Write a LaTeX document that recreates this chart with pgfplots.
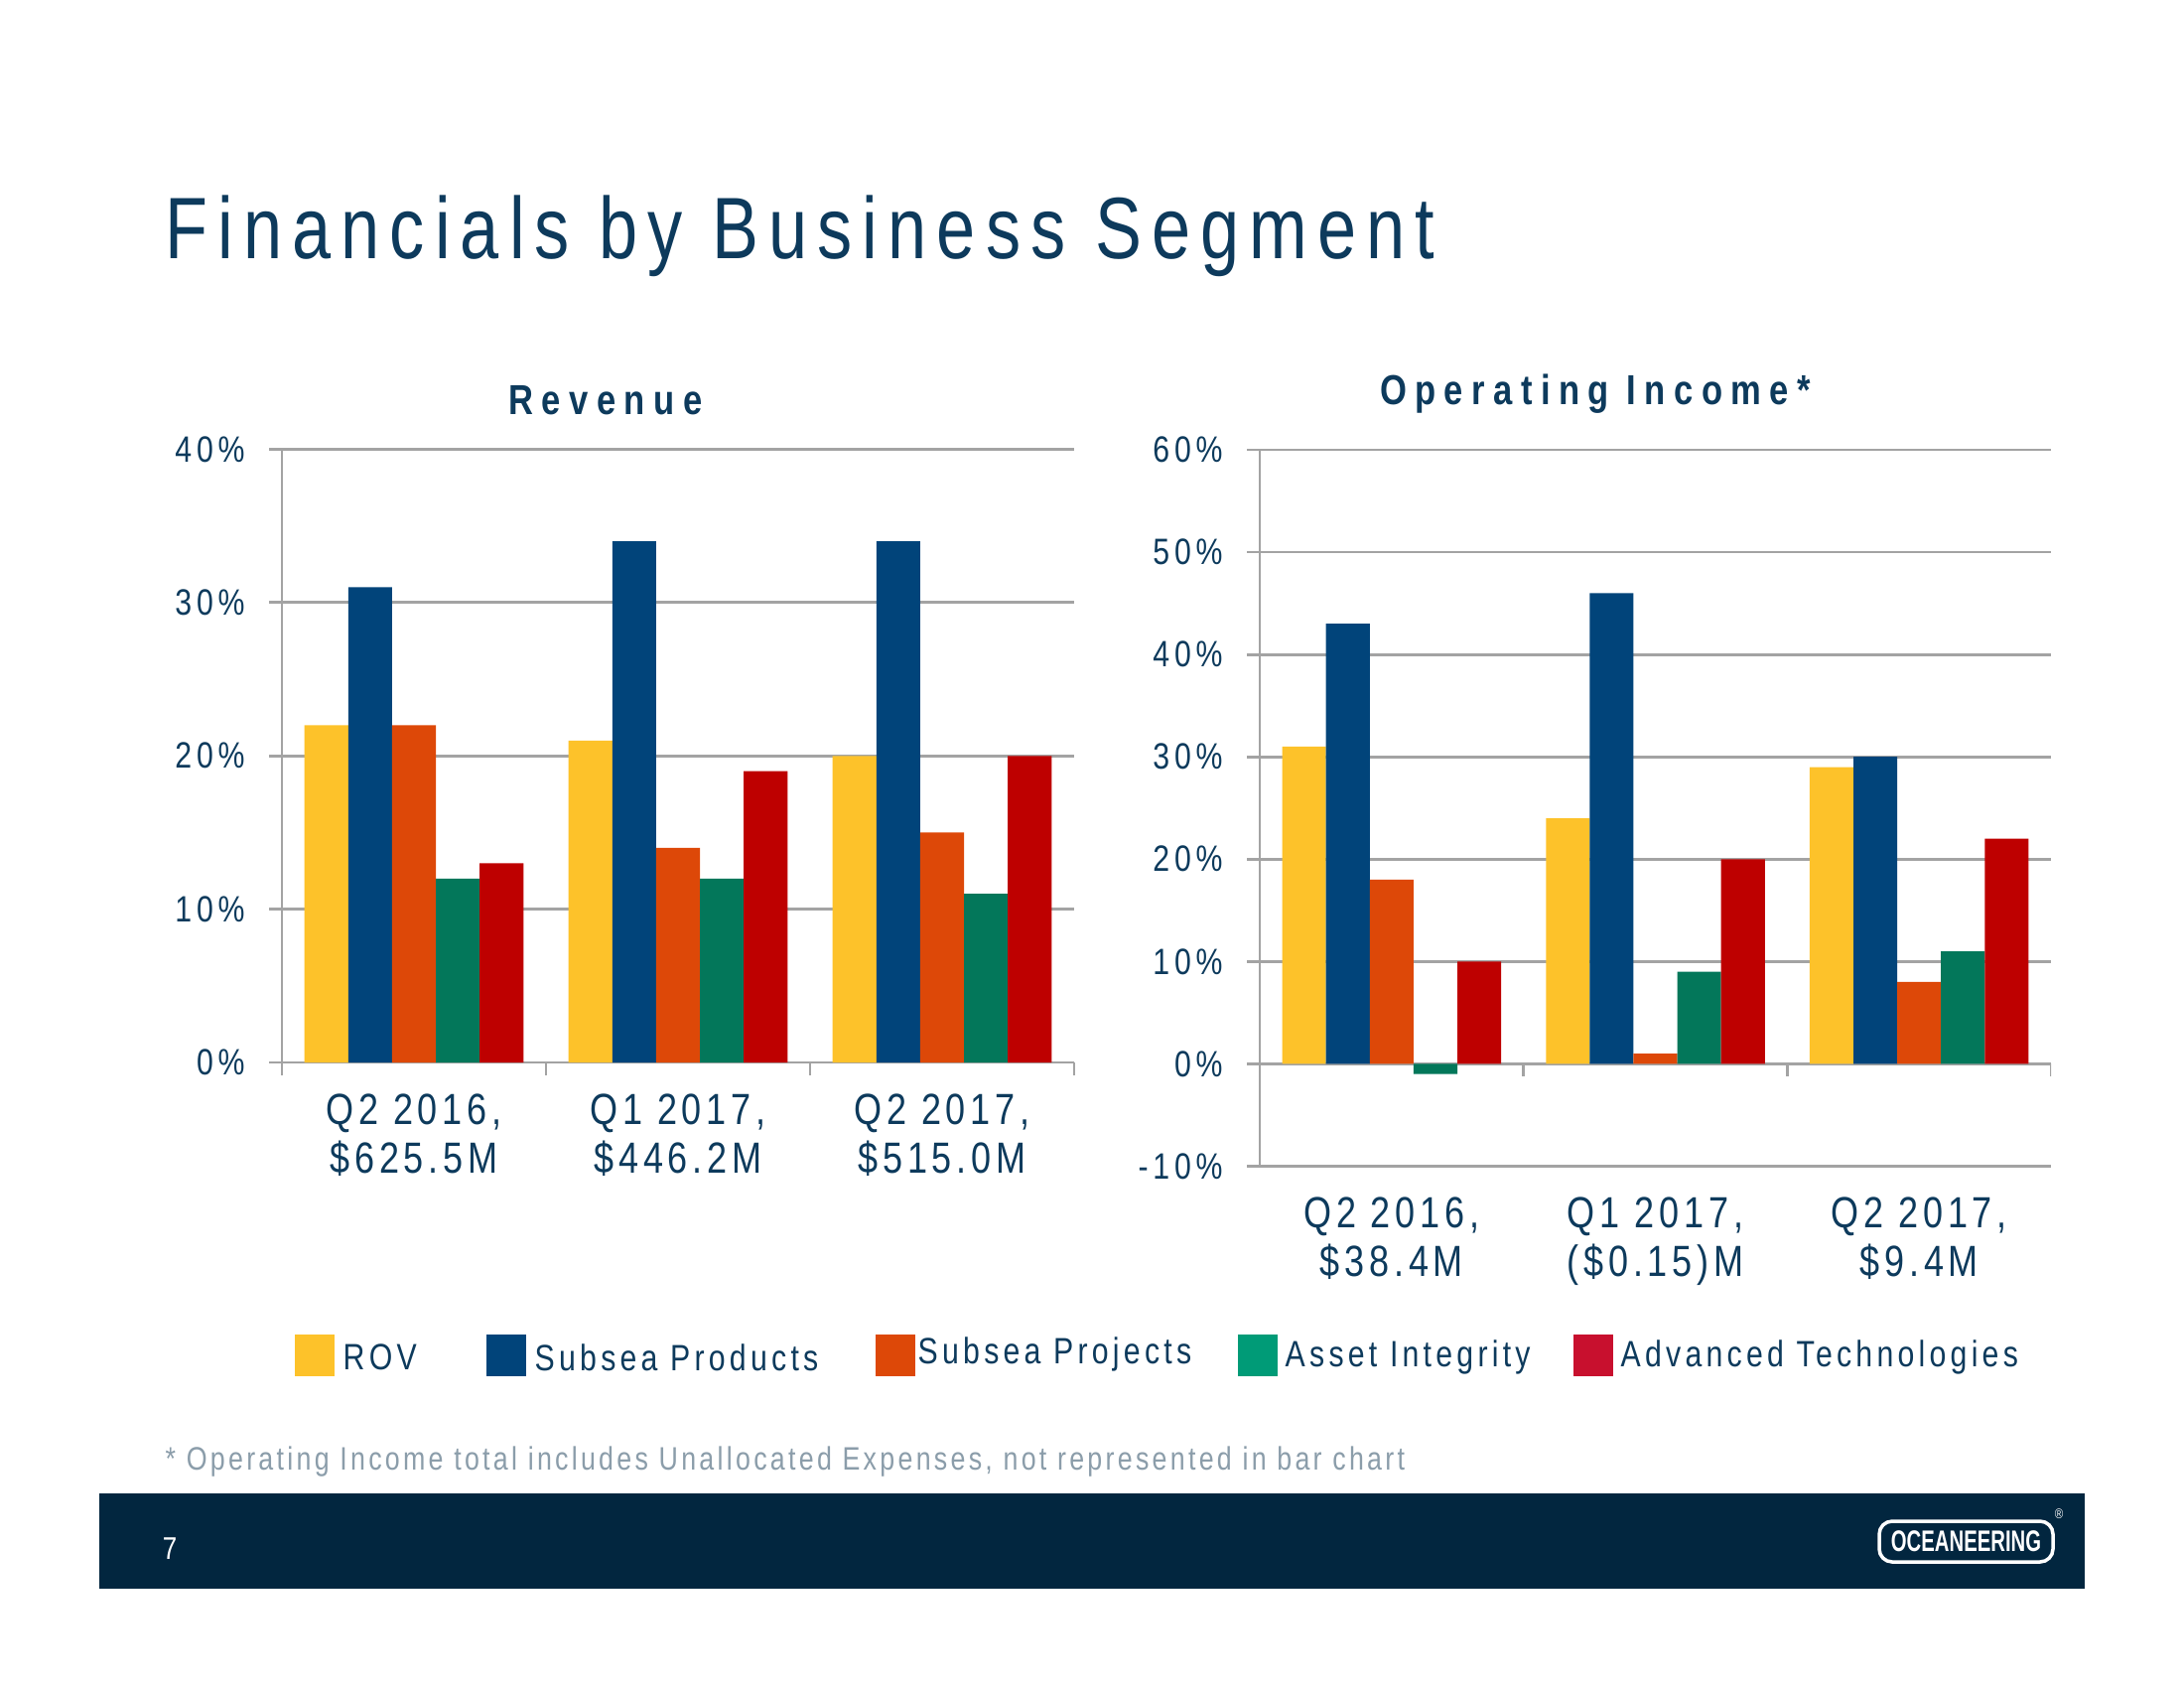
\documentclass[border=0pt]{standalone}
\usepackage{fontspec}
\setmainfont{Liberation Sans}[FakeStretch=0.82, LetterSpace=8]
\newfontfamily\titlefont{Liberation Sans}[FakeStretch=0.80, LetterSpace=11.5]
\newfontfamily\subfont{Liberation Sans}[FakeStretch=0.82, LetterSpace=20]
\newfontfamily\tickfont{Liberation Sans}[FakeStretch=0.82, LetterSpace=13]
\newfontfamily\catfont{Liberation Sans}[FakeStretch=0.82, LetterSpace=11]
\newfontfamily\legfont{Liberation Sans}[FakeStretch=0.82, LetterSpace=11.5]
\newfontfamily\footfont{Liberation Sans}[FakeStretch=0.82, LetterSpace=10]
\newfontfamily\logofont{Liberation Sans}[FakeStretch=0.68]
\usepackage{pgfplots}
\pgfplotsset{compat=1.18}
\definecolor{navy}{HTML}{0D3A5C}
\definecolor{gridgray}{HTML}{A3A3A3}
\definecolor{rov}{HTML}{FDC22A}
\definecolor{sprod}{HTML}{01447A}
\definecolor{sproj}{HTML}{DD4808}
\definecolor{asset}{HTML}{03775A}
\definecolor{adv}{HTML}{BE0000}
\definecolor{assetL}{HTML}{009B77}
\definecolor{advL}{HTML}{C8102E}
\definecolor{footgray}{HTML}{8B9DAA}
\definecolor{band}{HTML}{02263F}
\pgfplotsset{segstyle/.style={
  scale only axis, ybar, bar width=0.166,
  xmin=-0.5, xmax=2.5, enlarge x limits=false, enlarge y limits=false,
  axis x line=bottom, axis y line=left,
  axis line style={draw=gridgray, line width=0.8pt, -},
  ymajorgrids, grid style={draw=gridgray, line width=0.8pt},
  tick align=outside, major tick length=1.3mm,
  ytick style={draw=gridgray, line width=0.8pt},
  xtick={-0.5,0.5,1.5,2.5}, x tick label as interval,
  xticklabel style={align=center, font=\catfont\fontsize{12.5}{14}\selectfont, text=navy, yshift=-0.6mm},
  yticklabel style={font=\tickfont\fontsize{10.5}{12}\selectfont, text=navy, xshift=-1.2mm},
}}
\begin{document}
\begin{tikzpicture}
\path[use as bounding box] (0,0) rectangle (22,-17);
\node[anchor=base west, text=navy, font=\titlefont\fontsize{25}{30}\selectfont, inner sep=0] at (1.66,-2.60) {Financials by Business Segment};
\node[font=\subfont\bfseries\fontsize{12}{14}\selectfont, text=navy] at (6.10,-4.03) {Revenue};
\node[font=\subfont\bfseries\fontsize{12}{14}\selectfont, text=navy] at (16.07,-3.97) {Operating Income*};

\begin{axis}[segstyle, at={(2.84cm,-4.525cm)}, anchor=north west,
  width=7.98cm, height=6.175cm, ymin=0, ymax=40,
  ytick={0,10,20,30,40}, yticklabels={0\%,10\%,20\%,30\%,40\%},
  xtick style={draw=gridgray, line width=0.8pt},
  xticklabels={{Q2 2016,\\\$625.5M},{Q1 2017,\\\$446.2M},{Q2 2017,\\\$515.0M},{}}]
\addplot[fill=rov, draw=none, bar shift=-0.332] coordinates {(0,22) (1,21) (2,20)};
\addplot[fill=sprod, draw=none, bar shift=-0.166] coordinates {(0,31) (1,34) (2,34)};
\addplot[fill=sproj, draw=none, bar shift=0] coordinates {(0,22) (1,14) (2,15)};
\addplot[fill=asset, draw=none, bar shift=0.166] coordinates {(0,12) (1,12) (2,11)};
\addplot[fill=adv, draw=none, bar shift=0.332] coordinates {(0,13) (1,19) (2,20)};
\end{axis}

\begin{axis}[segstyle, at={(12.69cm,-4.53cm)}, anchor=north west,
  width=7.97cm, height=7.215cm, ymin=-10, ymax=60,
  ytick={-10,0,10,20,30,40,50,60}, yticklabels={-10\%,0\%,10\%,20\%,30\%,40\%,50\%,60\%},
  xtick style={draw=none},
  xticklabels={{Q2 2016,\\\$38.4M},{Q1 2017,\\(\$0.15)M},{Q2 2017,\\\$9.4M},{}}]
\addplot[fill=rov, draw=none, bar shift=-0.332] coordinates {(0,31) (1,24) (2,29)};
\addplot[fill=sprod, draw=none, bar shift=-0.166] coordinates {(0,43) (1,46) (2,30)};
\addplot[fill=sproj, draw=none, bar shift=0] coordinates {(0,18) (1,1) (2,8)};
\addplot[fill=asset, draw=none, bar shift=0.166] coordinates {(0,-1) (1,9) (2,11)};
\addplot[fill=adv, draw=none, bar shift=0.332] coordinates {(0,10) (1,20) (2,22)};
\draw[gridgray, line width=0.8pt] (axis cs:-0.5,0) -- ([yshift=-1.3mm]axis cs:-0.5,0);
\draw[gridgray, line width=0.8pt] (axis cs:0.5,0) -- ([yshift=-1.3mm]axis cs:0.5,0);
\draw[gridgray, line width=0.8pt] (axis cs:1.5,0) -- ([yshift=-1.3mm]axis cs:1.5,0);
\draw[gridgray, line width=0.8pt] (axis cs:2.5,0) -- ([yshift=-1.3mm]axis cs:2.5,0);
\end{axis}

% legend
\begin{scope}[every node/.style={anchor=west, inner sep=0, text=navy, font=\legfont\fontsize{10.5}{12}\selectfont}]
\fill[rov] (2.97,-13.44) rectangle (3.37,-13.86);
\node at (3.45,-13.67) {ROV};
\fill[sprod] (4.90,-13.44) rectangle (5.30,-13.86);
\node at (5.38,-13.67) {Subsea Products};
\fill[sproj] (8.82,-13.44) rectangle (9.22,-13.86);
\node at (9.24,-13.64) {Subsea Projects};
\fill[assetL] (12.47,-13.44) rectangle (12.87,-13.86);
\node at (12.94,-13.67) {Asset Integrity};
\fill[advL] (15.85,-13.44) rectangle (16.25,-13.86);
\node at (16.32,-13.67) {Advanced Technologies};
\end{scope}

\node[anchor=west, inner sep=0, text=footgray, font=\footfont\fontsize{9.3}{11}\selectfont] at (1.66,-14.72) {* Operating Income total includes Unallocated Expenses, not represented in bar chart};

\fill[band] (1.00,-15.04) rectangle (21.00,-16.00);
\node[text=white, font=\fontsize{9}{11}\selectfont] at (1.71,-15.60) {7};
\draw[white, line width=0.35mm, rounded corners=1.3mm] (18.93,-15.32) rectangle (20.68,-15.73);
\node[text=white, font=\logofont\bfseries\fontsize{8.5}{10}\selectfont, inner sep=0] at (19.805,-15.525) {OCEANEERING};
\node[text=white, font=\fontsize{4}{5}\selectfont, inner sep=0] at (20.74,-15.25) {\textregistered};
\end{tikzpicture}
\end{document}
